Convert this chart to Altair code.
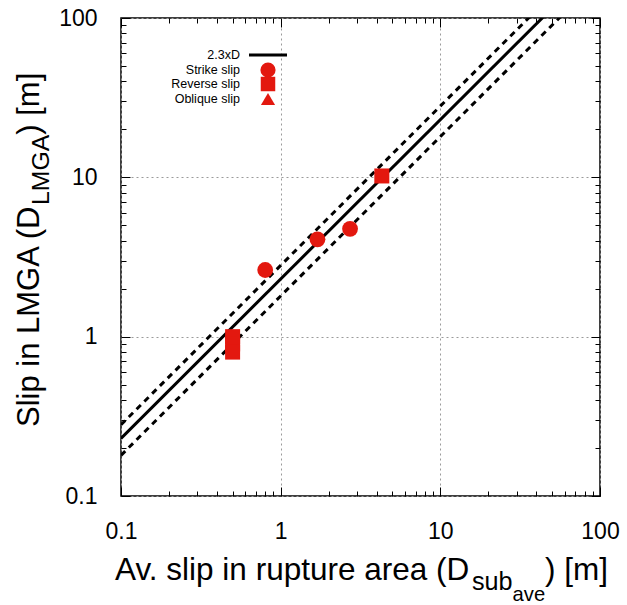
import altair as alt
import pandas as pd

# ---------------- data ----------------
strike_x = [0.80, 1.70, 2.72]
strike_y = [2.62, 4.08, 4.75]
reverse_x = [0.50, 0.50, 0.50, 4.30]
reverse_y = [1.00, 0.90, 0.80, 10.2]
fit_factor = 2.3
band_upper = 2.8
band_lower = 1.8
line_x = [0.1, 100.0]
major_ticks = [0.1, 1, 10, 100]
minor_ticks = [0.2, 0.3, 0.4, 0.5, 0.6, 0.7, 0.8, 0.9,
               2, 3, 4, 5, 6, 7, 8, 9,
               20, 30, 40, 50, 60, 70, 80, 90]
legend_labels = ["2.3xD", "Strike slip", "Reverse slip", "Oblique slip"]
x_title_parts = ["Av. slip in rupture area (D", "sub", "ave", ") [m]"]
y_title_parts = ["Slip in LMGA (D", "LMGA", ") [m]"]

# ---------------- style ----------------
W, H = 479, 478
RED = "#e3180f"
FONT = "Liberation Sans"

strike_df = pd.DataFrame({"x": strike_x, "y": strike_y})
reverse_df = pd.DataFrame({"x": reverse_x, "y": reverse_y})
all_df = pd.concat([strike_df, reverse_df], ignore_index=True)

rows = []
for name, f in [("fit", fit_factor), ("upper", band_upper), ("lower", band_lower)]:
    for xv in line_x:
        rows.append({"x": xv, "y": f * xv, "kind": name})
lines_df = pd.DataFrame(rows)

xs = alt.Scale(type="log", domain=[0.1, 100], nice=False)
ys = alt.Scale(type="log", domain=[0.1, 100], nice=False)

main_x_axis = alt.Axis(values=major_ticks, orient="bottom", ticks=False, domain=False,
                       grid=True, gridDash=[2, 3], gridColor="#9a9a9a", gridWidth=1,
                       labelFont=FONT, labelFontSize=23, labelColor="black",
                       labelPadding=24, labelFlush=False, labelOverlap=False,
                       labelBound=False, format="~g", title=None)
main_y_axis = alt.Axis(values=major_ticks, orient="left", ticks=False, domain=False,
                       grid=True, gridDash=[2, 3], gridColor="#9a9a9a", gridWidth=1,
                       labelFont=FONT, labelFontSize=23, labelColor="black",
                       labelPadding=24, labelFlush=False, labelOverlap=False,
                       labelBound=False, format="~g", title=None)


def tick_axis(vals, orient, offset, size):
    return alt.Axis(values=vals, orient=orient, offset=offset, ticks=True,
                    tickSize=size, tickColor="black", tickWidth=1,
                    labels=False, domain=False, grid=False, title=None)


layers = []

# fit lines
for kind, dash in [("fit", None), ("upper", [6, 5]), ("lower", [6, 5])]:
    kw = dict(color="black", strokeWidth=3, clip=True)
    if dash:
        kw["strokeDash"] = dash
    layers.append(
        alt.Chart(lines_df[lines_df.kind == kind]).mark_line(**kw).encode(
            x=alt.X("x:Q", scale=xs, axis=None),
            y=alt.Y("y:Q", scale=ys, axis=None),
        )
    )

# data points
layers.append(
    alt.Chart(strike_df).mark_point(shape="circle", filled=True, opacity=1,
                                    size=250, color=RED).encode(
        x=alt.X("x:Q", scale=xs, axis=main_x_axis),
        y=alt.Y("y:Q", scale=ys, axis=main_y_axis),
    )
)
layers.append(
    alt.Chart(reverse_df).mark_point(shape="square", filled=True, opacity=1,
                                     size=225, color=RED).encode(
        x=alt.X("x:Q", scale=xs, axis=None),
        y=alt.Y("y:Q", scale=ys, axis=None),
    )
)

# inward ticks on all four frame sides
for vals, size in [(major_ticks, 9), (minor_ticks, 5)]:
    # bottom and left edges
    layers.append(
        alt.Chart(all_df).mark_point(opacity=0).encode(
            x=alt.X("x:Q", scale=xs, axis=tick_axis(vals, "top", -H, size)),
            y=alt.Y("y:Q", scale=ys, axis=tick_axis(vals, "right", -W, size)),
        )
    )
    # top and right edges
    layers.append(
        alt.Chart(all_df).mark_point(opacity=0).encode(
            x=alt.X("x:Q", scale=xs, axis=tick_axis(vals, "bottom", -H, size)),
            y=alt.Y("y:Q", scale=ys, axis=tick_axis(vals, "left", -W, size)),
        )
    )

# legend (gnuplot style: labels left, symbols right)
leg_y = [37, 52, 66, 81]
for lab, yy in zip(legend_labels, leg_y):
    layers.append(
        alt.Chart(pd.DataFrame({"t": [lab]})).mark_text(
            align="right", baseline="middle", font=FONT, fontSize=12.5, color="black"
        ).encode(text="t:N", x=alt.value(119), y=alt.value(yy))
    )
layers.append(
    alt.Chart(pd.DataFrame({"t": [legend_labels[0]]})).mark_rule(
        color="black", strokeWidth=3
    ).encode(x=alt.value(128), x2=alt.value(166), y=alt.value(leg_y[0]))
)
for lab, shp, yy, sz in zip(legend_labels[1:], ["circle", "square", "triangle-up"],
                            leg_y[1:], [230, 210, 200]):
    layers.append(
        alt.Chart(pd.DataFrame({"t": [lab]})).mark_point(
            shape=shp, filled=True, opacity=1, size=sz, color=RED
        ).encode(x=alt.value(147), y=alt.value(yy))
    )

# x-axis title with subscripts
xt = [(x_title_parts[0], -6, 562, 31.5),
      (x_title_parts[1], 351, 572, 25.2),
      (x_title_parts[2], 391.6, 583, 20.2),
      (x_title_parts[3], 424, 562, 31.5)]
for txt, xx, yy, fs in xt:
    layers.append(
        alt.Chart(pd.DataFrame({"t": [txt]})).mark_text(
            align="left", baseline="alphabetic", font=FONT, fontSize=fs, color="black"
        ).encode(text="t:N", x=alt.value(xx), y=alt.value(yy))
    )

# y-axis title with subscript (rotated)
yt = [(y_title_parts[0], -82, 409, 31),
      (y_title_parts[1], -72, 187, 24.8),
      (y_title_parts[2], -82, 116.7, 31)]
for txt, xx, yy, fs in yt:
    layers.append(
        alt.Chart(pd.DataFrame({"t": [txt]})).mark_text(
            align="left", baseline="alphabetic", angle=270, font=FONT,
            fontSize=fs, color="black"
        ).encode(text="t:N", x=alt.value(xx), y=alt.value(yy))
    )

chart = alt.layer(*layers).resolve_axis(x="independent", y="independent").properties(
    width=W, height=H,
    padding={"left": 121, "top": 18, "right": 27, "bottom": 109},
    autosize=alt.AutoSizeParams(type="none"),
).configure_view(stroke="black", strokeWidth=1.5)

chart.save("out.html", embed_options={"renderer": "svg", "actions": False})
